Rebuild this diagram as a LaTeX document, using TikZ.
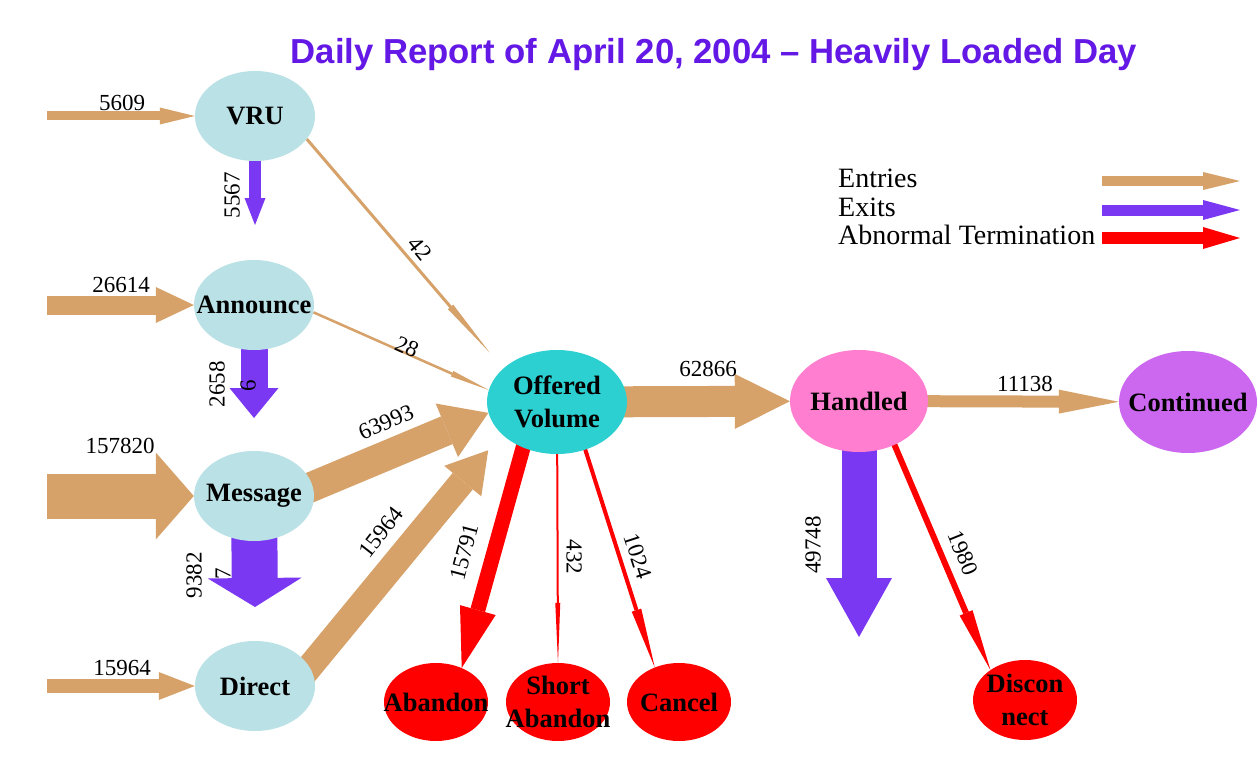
\documentclass[tikz,border=0pt]{standalone}
\usepackage{fontspec}
\setmainfont{Liberation Serif}
\newfontfamily\titlefamily{Liberation Sans}
\usetikzlibrary{arrows.meta,shapes.geometric,calc}

\definecolor{stageblue}{RGB}{186,226,230}
\definecolor{hubcyan}{RGB}{44,208,208}
\definecolor{handpink}{RGB}{255,126,208}
\definecolor{contviolet}{RGB}{204,104,240}
\definecolor{abnred}{RGB}{255,0,0}
\definecolor{entrytan}{RGB}{214,162,106}
\definecolor{exitviolet}{RGB}{122,56,242}
\definecolor{titleviolet}{RGB}{100,24,230}

\pgfdeclarelayer{paper}
\pgfdeclarelayer{flows}
\pgfsetlayers{paper,flows,main}

\newcommand{\stagefont}{\fontsize{26.5}{33}\selectfont\bfseries}
\newcommand{\countfont}{\fontsize{23}{26}\selectfont}
\newcommand{\legendfont}{\fontsize{28}{30}\selectfont}

\tikzset{
  stage/.style={ellipse, inner sep=0pt, minimum width=120pt, minimum height=90pt, fill=stageblue},
  hubnode/.style={ellipse, inner sep=0pt, minimum width=140pt, minimum height=104pt},
  sinknode/.style={ellipse, inner sep=0pt, minimum width=104pt, minimum height=78pt, fill=abnred},
  every label/.style={font=\stagefont, align=center, inner sep=0pt},
  count/.style={font=\countfont, inner sep=0pt},
  legendtext/.style={font=\legendfont, inner sep=0pt, anchor=base west},
  inflow/.style n args={3}{draw=entrytan, line width=#1, -{Triangle[width=#2, length=#3, line width=0pt]}},
  outflow/.style n args={3}{draw=exitviolet, line width=#1, -{Triangle[width=#2, length=#3, line width=0pt]}},
  abnflow/.style n args={3}{draw=abnred, line width=#1, -{Triangle[width=#2, length=#3, line width=0pt]}},
}

\begin{document}
\begin{tikzpicture}[x=1pt, y=-1pt]
\begin{pgfonlayer}{paper}
  \fill[white] (0,0) rectangle (1258,765);
\end{pgfonlayer}
\useasboundingbox (0,0) rectangle (1258,765);

% title
\node[anchor=base, inner sep=0pt, text=titleviolet,
      font=\titlefamily\bfseries\fontsize{34.7}{40}\selectfont] (title) at (714,64)
  {Daily Report of April 20, 2004 – Heavily Loaded Day};

% stages
\node[stage, label=center:VRU] (vru) at (255,116) {};
\node[stage, label=center:Announce] (ann) at (254,305) {};
\node[stage, label=center:Message] (msg) at (254,496) {};
\node[stage, label=center:Direct] (dir) at (255,686) {};
\node[hubnode, fill=hubcyan, label={center:Offered\\Volume}] (off) at (557,402) {};
\node[hubnode, minimum width=138pt, minimum height=102pt, fill=handpink, label=center:Handled] (hdl) at (859,401) {};
\node[hubnode, minimum width=138pt, minimum height=102pt, fill=contviolet, label=center:Continued] (cont) at (1188,402) {};
\node[sinknode, label=center:Abandon] (ab) at (436,702) {};
\node[sinknode, label={center:Short\\Abandon}] (sab) at (558,702) {};
\node[sinknode, label=center:Cancel] (can) at (679,702) {};
\node[sinknode, minimum height=80pt, label={center:Discon\\nect}] (dis) at (1025,700) {};

% free ends of the flows
\coordinate (src1) at (47,116);
\coordinate (src2) at (47,305);
\coordinate (src3) at (47,496);
\coordinate (src4) at (47,686);
\coordinate (out1) at (255,225);
\coordinate (out2) at (254,418);
\coordinate (out3) at (255,607);
\coordinate (out4) at (859,637);
\coordinate (keyinA) at (1102,181);
\coordinate (keyinB) at (1240,181);
\coordinate (keyoutA) at (1102,210);
\coordinate (keyoutB) at (1240,210);
\coordinate (keyabnA) at (1102,238);
\coordinate (keyabnB) at (1240,238);

\begin{pgfonlayer}{flows}
  % entries
  \draw[inflow={9pt}{17pt}{35pt}] (src1) -- (vru);
  \draw[inflow={19pt}{36pt}{38pt}] (src2) -- (ann);
  \draw[inflow={45pt}{87pt}{38pt}] (src3) -- (msg);
  \draw[inflow={14pt}{28pt}{36pt}] (src4) -- (dir);
  % exits
  \draw[outflow={12pt}{21pt}{27pt}] (vru.center) -- (out1);
  \draw[outflow={27pt}{49pt}{30pt}] (ann.center) -- (out2);
  \draw[outflow={46pt}{94pt}{29pt}] (msg.center) -- (out3);
  \draw[outflow={35pt}{66pt}{59pt}] (hdl.center) -- (out4);
  % into offered volume
  \draw[inflow={3pt}{7pt}{60pt}, shorten >=21pt] (vru.-24) -- (off.148);
  \draw[inflow={2.5pt}{6pt}{40pt}] (ann.-7) -- (off.170);
  \draw[inflow={30pt}{58pt}{45pt}] ($(msg.center)+(0,15)$) -- (off.189);
  \draw[inflow={26pt}{48pt}{40pt}, shorten >=21pt] ($(dir.center)+(25,17)$) -- (off.210);
  % onward
  \draw[inflow={31pt}{55pt}{55pt}] (off.center) -- (hdl);
  \draw[inflow={12pt}{24pt}{60pt}] (hdl.center) -- (cont);
  % abnormal terminations
  \draw[abnflow={15pt}{37pt}{60pt}] ($(off.center)+(-29,28)$) -- (ab.53);
  \draw[abnflow={2pt}{5pt}{60pt}] (off.center) -- (sab.north);
  \draw[abnflow={4pt}{10pt}{60pt}] ($(off.center)+(22,28)$) -- (can.125);
  \draw[abnflow={6pt}{14pt}{62pt}] ($(hdl.center)+(27,24)$) -- (dis.139);
  % legend keys
  \draw[inflow={10pt}{18pt}{37pt}] (keyinA) -- (keyinB);
  \draw[outflow={11pt}{20pt}{37pt}] (keyoutA) -- (keyoutB);
  \draw[abnflow={12pt}{22pt}{37pt}] (keyabnA) -- (keyabnB);
\end{pgfonlayer}

% counts
\node[count] (n5609) at (122,103) {5609};
\node[count, rotate=90] (n5567) at (232,195) {5567};
\node[count] (n26614) at (121,285) {26614};
\node[count, rotate=90] (n2658) at (217,384) {2658};
\node[count, rotate=90] (n2658b) at (248,386) {6};
\node[count] (n157820) at (120,446) {157820};
\node[count, rotate=90] (n9382) at (194,575) {9382};
\node[count, rotate=90] (n9382b) at (223,574) {7};
\node[count] (n15964a) at (122,668) {15964};
\node[count, rotate=-51] (n42) at (420,249) {42};
\node[count, rotate=-24] (n28) at (407,347) {28};
\node[count, rotate=23.5] (n63993) at (386,422) {63993};
\node[count, rotate=52] (n15964b) at (381,532) {15964};
\node[count, rotate=75] (n15791) at (464,552) {15791};
\node[count, rotate=-90] (n432) at (574,557) {432};
\node[count, rotate=-72] (n1024) at (638,556) {1024};
\node[count] (n62866) at (708,369) {62866};
\node[count] (n11138) at (1025,384) {11138};
\node[count, rotate=90] (n49748) at (813,545) {49748};
\node[count, rotate=-68] (n1980) at (963,553) {1980};

% legend
\node[legendtext] (legin) at (838,187) {Entries};
\node[legendtext] (legout) at (838,216) {Exits};
\node[legendtext] (legabn) at (838,244) {Abnormal Termination};
\end{tikzpicture}
\end{document}
